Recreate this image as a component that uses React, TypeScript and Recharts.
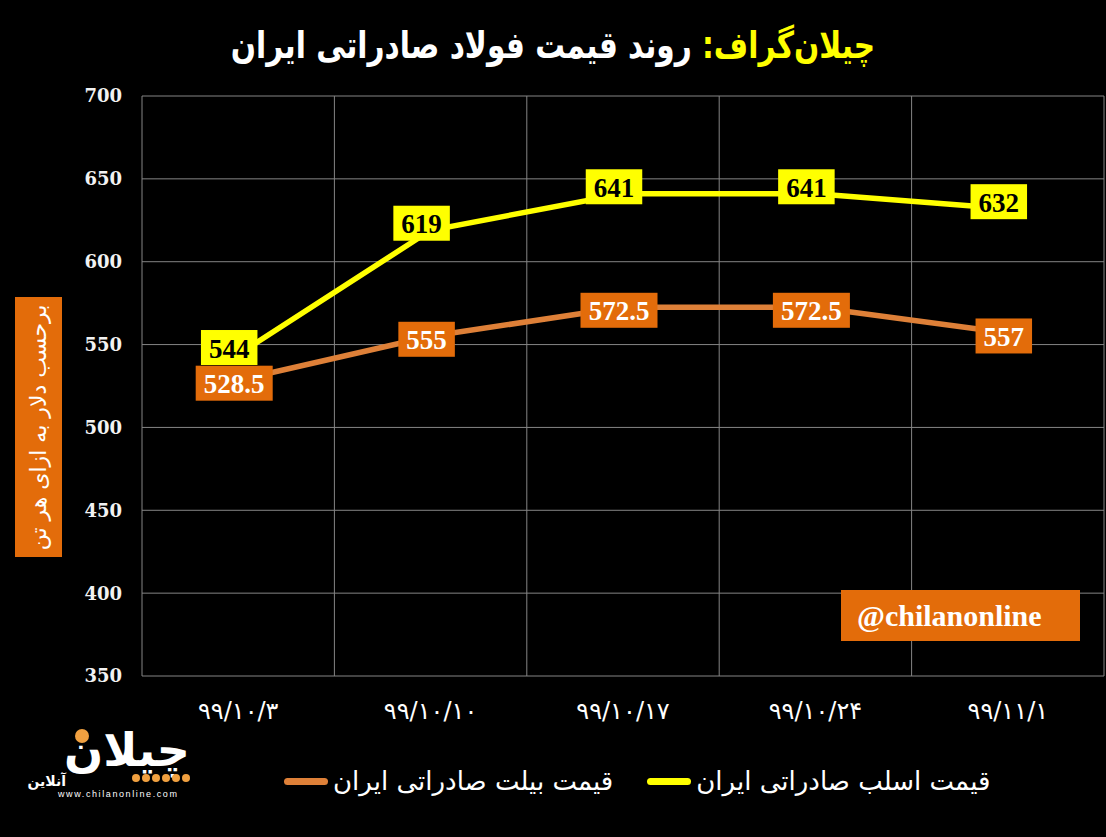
import { LineChart, Line, XAxis, YAxis, CartesianGrid, Legend, LabelList } from 'recharts';

const dates = ['۹۹/۱۰/۳', '۹۹/۱۰/۱۰', '۹۹/۱۰/۱۷', '۹۹/۱۰/۲۴', '۹۹/۱۱/۱'];
const slabPrice = [544, 619, 641, 641, 632];
const billetPrice = [528.5, 555, 572.5, 572.5, 557];
const yTicks = [350, 400, 450, 500, 550, 600, 650, 700];

const slabName = 'قیمت اسلب صادراتی ایران';
const billetName = 'قیمت بیلت صادراتی ایران';
const legendOrder = ['billet', 'slab'];

const data = dates.map((d, i) => ({ date: d, slab: slabPrice[i], billet: billetPrice[i] }));

const persian = '"DejaVu Sans", sans-serif';
const serif = '"Liberation Serif", "Times New Roman", serif';

// box label drawn around each point, like excel's filled data labels
const boxLabel = (bg: string, fg: string, dx: number, dy: number) => (props: any) => {
  const { x, y, value } = props;
  const text = String(value);
  const w = text.split('').reduce((s, ch) => s + (ch === '.' ? 7 : 13.5), 0) + 16;
  const h = 35;
  return (
    <g>
      <rect x={x + dx - w / 2} y={y + dy - h / 2} width={w} height={h} fill={bg} />
      <text x={x + dx} y={y + dy + 1} textAnchor="middle" dominantBaseline="central"
        fontFamily={serif} fontWeight="bold" fontSize={27} fill={fg}>{text}</text>
    </g>
  );
};

const legendContent = (props: any) => {
  const items = [...props.payload].sort((a: any, b: any) => legendOrder.indexOf(a.dataKey) - legendOrder.indexOf(b.dataKey));
  return (
    <div style={{ display: 'flex', alignItems: 'center', gap: 34 }}>
      {items.map((p: any) => (
        <div key={p.value} style={{ display: 'flex', alignItems: 'center', gap: 5 }}>
          <div style={{ width: 44, height: 7, borderRadius: 4, background: p.color }} />
          <span style={{ direction: 'rtl', color: '#fff', fontFamily: persian, fontSize: 26 }}>{p.value}</span>
        </div>
      ))}
    </div>
  );
};

export default function App() {
  return (
    <div style={{ position: 'absolute', left: 0, top: 0, width: 1106, height: 837, background: '#000', overflow: 'hidden' }}>
      <div style={{ position: 'absolute', top: 24, left: 0, width: 1106, textAlign: 'center', direction: 'rtl',
        fontFamily: persian, fontWeight: 'bold', fontSize: 37, color: '#fff', transform: 'scaleX(0.8)' }}>
        <span style={{ color: '#ffff00' }}>چیلان‌گراف:</span> روند قیمت فولاد صادراتی ایران
      </div>

      <div style={{ position: 'absolute', left: 15, top: 297, width: 47, height: 260, background: '#e36c0a',
        display: 'flex', alignItems: 'center', justifyContent: 'center' }}>
        <div style={{ transform: 'rotate(-90deg)', whiteSpace: 'nowrap', direction: 'rtl', color: '#fff',
          fontFamily: persian, fontSize: 22 }}>برحسب دلار به ازای هر تن</div>
      </div>

      <LineChart width={1106} height={837} data={data} margin={{ top: 96, right: 2, bottom: 131, left: 0 }}>
        <CartesianGrid stroke="#858585" strokeWidth={1}
          verticalCoordinatesGenerator={({ offset }: any) =>
            dates.map((_, i) => offset.left + (i * offset.width) / dates.length).concat(offset.left + offset.width)} />
        <XAxis dataKey="date" scale="band" height={30} axisLine={false} tickLine={false} tickSize={0} tickMargin={26}
          tick={{ fill: '#fff', fontFamily: persian, fontSize: 24 }} />
        <YAxis domain={[350, 700]} ticks={yTicks} width={142} axisLine={false} tickLine={false} tickSize={0} tickMargin={20}
          tick={{ fill: '#f2f2f2', fontFamily: '"DejaVu Serif", serif', fontWeight: 'bold', fontSize: 18 }} />
        <Legend verticalAlign="middle" align="center" content={legendContent}
          wrapperStyle={{ top: 766, left: 284, width: 'auto' }} />
        <Line name={billetName} dataKey="billet" stroke="#de8038" strokeWidth={5.5} dot={false} strokeLinecap="round"
          isAnimationActive={false}>
          <LabelList dataKey="billet" content={boxLabel('#e36c0a', '#fff', -4, 3)} />
        </Line>
        <Line name={slabName} dataKey="slab" stroke="#ffff00" strokeWidth={5.5} dot={false} strokeLinecap="round"
          isAnimationActive={false}>
          <LabelList dataKey="slab" content={boxLabel('#ffff00', '#000', -9, -7)} />
        </Line>
      </LineChart>

      <div style={{ position: 'absolute', left: 841, top: 590, width: 239, height: 51, background: '#e36c0a',
        display: 'flex', alignItems: 'center', paddingLeft: 16, boxSizing: 'border-box',
        color: '#fff', fontFamily: serif, fontWeight: 'bold', fontSize: 30 }}>@chilanonline</div>

      <svg style={{ position: 'absolute', left: 20, top: 706 }} width={180} height={95}>
        <text x={170} y={60} textAnchor="end" fontFamily={persian} fontWeight="bold" fontSize={46} fill="#fff">چیلان</text>
        <circle cx={62} cy={30} r={7} fill="#f0a040" />
        <text x={46} y={80} textAnchor="end" fontFamily={persian} fontWeight="bold" fontSize={14} fill="#fff">آنلاین</text>
        {[116, 126, 136, 146, 156, 166].map(cx => <circle key={cx} cx={cx} cy={72} r={4} fill="#f0a040" />)}
        <text x={38} y={91} fontFamily='"Liberation Sans", sans-serif' fontSize={9} letterSpacing={1.6} fill="#fff">www.chilanonline.com</text>
      </svg>
    </div>
  );
}
